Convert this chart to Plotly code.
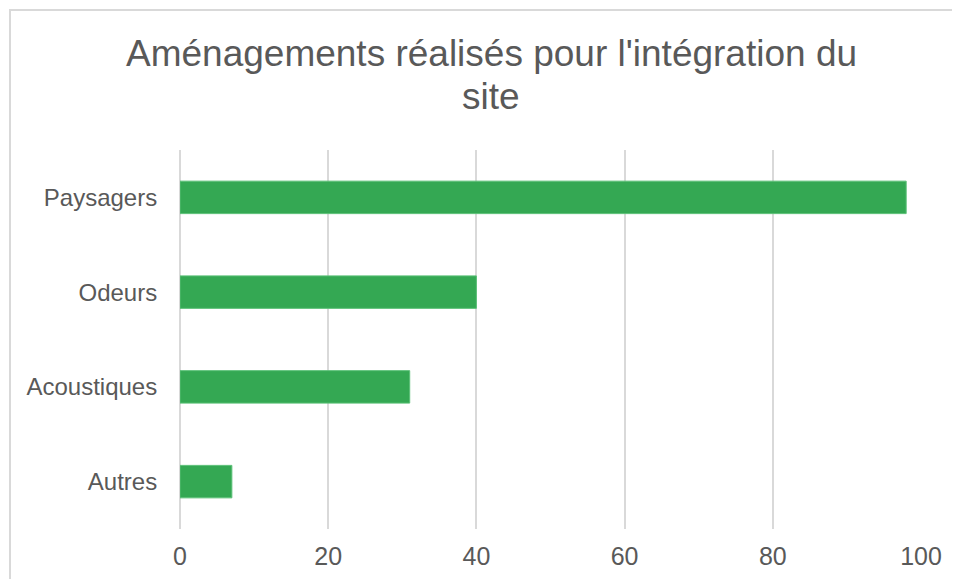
import plotly.graph_objects as go

categories = ["Paysagers", "Odeurs", "Acoustiques", "Autres"]
values = [98, 40, 31, 7]
x_ticks = [0, 20, 40, 60, 80, 100]
title_lines = ["Aménagements réalisés pour l'intégration du", "site"]

GREY = "#595959"
GRID = "#D9D9D9"
GREEN = "#34A853"
FONT = "Liberation Sans, Arial, sans-serif"

W, H = 960, 579
L, R, T, B = 172, 47, 142, 58
PW, PH = W - L - R, H - T - B

fig = go.Figure(
    go.Bar(
        x=values,
        y=categories,
        orientation="h",
        marker=dict(color=GREEN, line=dict(color="#5BC077", width=1)),
        hoverinfo="skip",
    )
)

annotations = []
for line, cy in zip(title_lines, [45, 89]):
    annotations.append(
        dict(
            text=line,
            xref="paper",
            yref="paper",
            x=(483 - L) / PW,
            y=(H - B - cy) / PH,
            xanchor="center",
            yanchor="middle",
            showarrow=False,
            font=dict(family=FONT, size=37, color=GREY),
        )
    )

fig.update_layout(
    width=W,
    height=H,
    margin=dict(l=L, r=R, t=T, b=B),
    paper_bgcolor="white",
    plot_bgcolor="white",
    bargap=0.657,
    showlegend=False,
    font=dict(family=FONT, color=GREY, size=24),
    annotations=annotations,
    xaxis=dict(
        range=[0, 100],
        tickvals=x_ticks,
        showgrid=True,
        gridcolor=GRID,
        gridwidth=2,
        zeroline=True,
        zerolinecolor=GRID,
        zerolinewidth=2,
        showline=False,
        ticks="outside",
        ticklen=5,
        tickcolor="rgba(0,0,0,0)",
        tickfont=dict(family=FONT, size=25, color=GREY),
        fixedrange=True,
    ),
    yaxis=dict(
        categoryorder="array",
        categoryarray=categories[::-1],
        range=[-0.5, 3.5],
        showgrid=False,
        zeroline=False,
        showline=False,
        ticks="outside",
        ticklen=17,
        tickcolor="rgba(0,0,0,0)",
        tickfont=dict(family=FONT, size=24, color=GREY),
        fixedrange=True,
    ),
    shapes=[
        dict(
            type="rect",
            xref="paper",
            yref="paper",
            x0=(2 - L) / PW,
            x1=1.3,
            y0=-0.4,
            y1=(H - B - 2) / PH,
            line=dict(color=GRID, width=2),
            fillcolor="rgba(0,0,0,0)",
            layer="below",
        )
    ],
)

fig.write_html("out.html")
